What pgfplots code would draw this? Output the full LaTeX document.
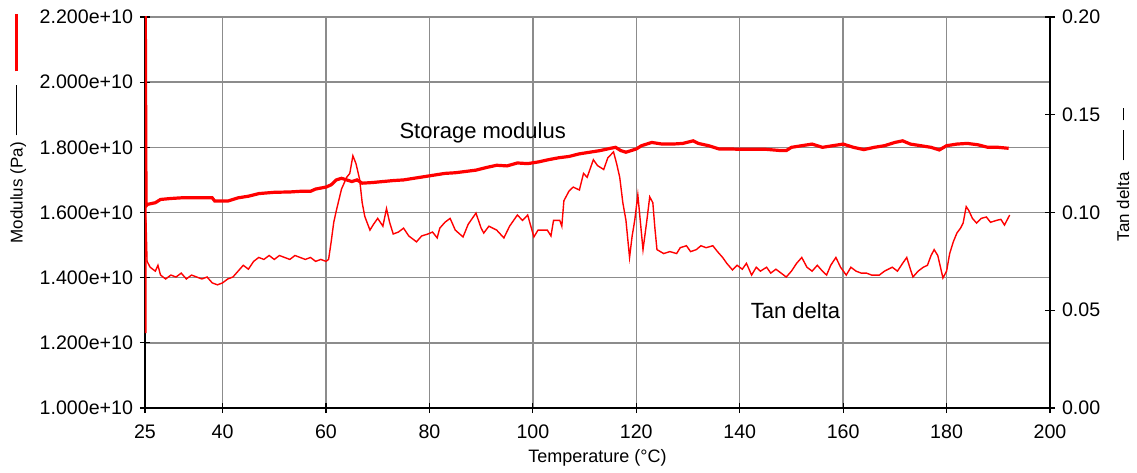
\documentclass[border=0pt]{standalone}
\usepackage{fontspec}
\setmainfont{Liberation Sans}
\usepackage{pgfplots}
\pgfplotsset{compat=1.18}
\definecolor{gridgray}{RGB}{140,140,140}
\definecolor{curvered}{RGB}{255,0,0}

% storage modulus, in units of 1e10 Pa
\pgfplotstableread{
T E
25.0 1.23
25.05 2.25
25.2 1.62
25.5 1.625
27 1.63
28 1.64
30 1.643
32 1.645
35 1.645
38 1.645
38.5 1.635
41 1.635
42 1.64
43 1.645
45 1.65
47 1.658
50 1.662
53 1.663
55 1.665
57 1.665
58 1.672
60 1.678
61 1.685
62 1.70
63 1.705
64 1.70
65 1.695
66 1.70
67 1.69
69 1.692
71 1.695
73 1.698
75 1.70
77 1.705
79 1.71
81 1.715
83 1.72
85 1.722
87 1.726
89 1.73
91 1.738
93 1.745
95 1.743
97 1.752
99 1.75
101 1.755
103 1.762
105 1.768
107 1.772
109 1.78
111 1.785
113 1.79
115 1.797
116 1.80
117 1.79
118 1.785
119 1.79
120 1.795
121 1.805
122 1.81
123 1.815
125 1.81
127 1.81
129 1.812
131 1.82
132 1.812
134 1.805
136 1.795
138 1.795
140 1.794
142 1.794
145 1.794
148 1.79
149 1.79
150 1.80
152 1.805
154 1.81
156 1.80
158 1.805
160 1.81
162 1.80
164 1.793
166 1.80
168 1.805
170 1.815
171.5 1.82
173 1.81
175 1.805
177 1.80
178.6 1.792
180 1.805
182 1.81
184 1.812
186 1.808
188 1.80
190 1.80
192 1.797
}\storagetab

\pgfplotstableread{
T D
25 0.10
25.2 0.095
25.4 0.075
26 0.072
27 0.070
27.5 0.073
28 0.068
29 0.066
30 0.068
31 0.067
32 0.069
33 0.066
34 0.068
35 0.067
36 0.066
37 0.067
38 0.064
39 0.063
40 0.064
41 0.066
42 0.067
43 0.070
44 0.073
45 0.071
46 0.075
47 0.077
48 0.076
49 0.078
50 0.076
51 0.078
52 0.077
53 0.076
54 0.078
55 0.077
56 0.076
57 0.077
58 0.075
59 0.076
60 0.075
60.5 0.076
61 0.085
61.5 0.095
62 0.101
63 0.112
64 0.118
64.6 0.120
65.2 0.129
65.8 0.125
66.5 0.117
67 0.105
67.5 0.098
68.5 0.091
69.2 0.094
70 0.097
71 0.093
71.7 0.102
72.3 0.095
73 0.089
74 0.090
75 0.092
76 0.088
77.5 0.085
78.5 0.088
79.7 0.089
80.6 0.090
81.5 0.087
82 0.092
83 0.095
84 0.097
85 0.091
86.5 0.0875
87.5 0.094
89 0.0997
90 0.092
90.5 0.0895
91.5 0.093
93 0.091
94.4 0.087
95.5 0.093
97 0.0987
98 0.096
99 0.0987
100.2 0.0875
101 0.091
102.8 0.091
103.5 0.088
104 0.096
105.2 0.096
105.6 0.093
106 0.106
107 0.111
107.8 0.113
109 0.1115
109.8 0.120
110.5 0.118
111.7 0.127
112.5 0.124
113.7 0.122
114.5 0.128
115.6 0.131
116.2 0.125
116.8 0.118
117.4 0.105
118 0.096
118.7 0.077
119.2 0.088
119.7 0.096
120.3 0.109
120.8 0.095
121.3 0.081
122 0.095
122.6 0.108
123.2 0.105
123.6 0.092
124 0.081
125.3 0.079
126.5 0.080
127.8 0.079
128.5 0.082
129.7 0.083
130.5 0.080
131.6 0.081
132.5 0.083
133.5 0.082
134.8 0.083
135.7 0.080
136.7 0.077
137.5 0.074
138.6 0.0706
139.5 0.073
140.5 0.071
141.3 0.074
142.3 0.068
143.2 0.072
144 0.070
145.2 0.072
146 0.069
147 0.071
148 0.069
149 0.067
150 0.070
151 0.074
152 0.077
153 0.072
154 0.070
155 0.073
156 0.070
156.8 0.068
157.6 0.073
158.6 0.077
159.5 0.072
160.6 0.068
161.5 0.072
162.5 0.070
163.5 0.069
164.5 0.069
165.5 0.068
167 0.068
168 0.070
169.5 0.072
170.5 0.070
171.5 0.074
172.3 0.077
173 0.071
173.5 0.067
174.5 0.070
175.5 0.072
176.3 0.073
177 0.078
177.6 0.081
178.3 0.078
179.3 0.0665
180 0.070
180.6 0.079
181.3 0.085
182 0.0895
182.7 0.092
183.2 0.0946
183.8 0.103
184.3 0.101
185 0.097
185.8 0.0946
186.7 0.097
187.7 0.0977
188.5 0.095
189.7 0.096
190.5 0.0965
191.2 0.0936
192.2 0.0987
}\tandeltatab

\pgfplotsset{
  dmastyle/.style={
    scale only axis,
    width=452.5pt, height=195.5pt,
    xmin=25, xmax=200,
    tick align=center,
    major tick length=5pt,
    tick style={black, line width=0.6pt},
    axis line style={black, line width=0.6pt, -},
    tick label style={font=\fontsize{9.8}{11}\selectfont},
    label style={font=\fontsize{8.5}{10}\selectfont},
  }
}

\begin{document}
\begin{tikzpicture}
\begin{axis}[
  dmastyle,
  name=ax,
  ymin=1, ymax=2.2,
  axis x line*=bottom,
  axis y line*=left,
  xtick={25,40,60,80,100,120,140,160,180,200},
  xticklabels={25,40,60,80,100,120,140,160,180,200},
  xticklabel style={yshift=-2.5pt},
  ytick={1,1.2,1.4,1.6,1.8,2.0,2.2},
  yticklabels={1.000e+10,1.200e+10,1.400e+10,1.600e+10,1.800e+10,2.000e+10,2.200e+10},
  grid=major,
  grid style={gridgray, line width=0.75pt},
  xlabel={Temperature (°C)},
  xlabel style={at={(axis description cs:0.5,-0.128)}, anchor=center,
    font=\fontsize{9}{11}\selectfont},
  ylabel={Modulus (Pa)\hspace{3.5pt}\rule[0.33em]{25pt}{0.5pt}\hspace{7pt}\textcolor{curvered}{\rule[0.25em]{28.5pt}{1.6pt}}},
  ylabel style={at={(axis description cs:-0.140,0.714)}, anchor=center},
]
\addplot[curvered, line width=1.6pt] table[x=T, y=E] {\storagetab};
\node[font=\fontsize{11}{13}\selectfont] at (axis cs:90.3,1.846) {Storage modulus};
\node[font=\fontsize{11}{13}\selectfont] at (axis cs:150.8,1.30) {Tan delta};
\end{axis}
\begin{axis}[
  dmastyle,
  ymin=0, ymax=0.2,
  axis x line=none,
  axis y line*=right,
  ytick={0,0.05,0.1,0.15,0.2},
  yticklabels={0.00,0.05,0.10,0.15,0.20},
  ylabel={Tan delta\hspace{6pt}\rule[0.33em]{15pt}{0.5pt}\hspace{5pt}\rule[0.33em]{6pt}{0.5pt}},
  ylabel style={at={(axis description cs:1.0807,0.596)}, anchor=center},
]
\addplot[curvered, line width=0.7pt] table[x=T, y=D] {\tandeltatab};
\end{axis}
\pgfresetboundingbox
\path[use as bounding box] ([shift={(-72.5pt,-32pt)}]ax.south west) rectangle ([shift={(496pt,204pt)}]ax.south west);
\end{tikzpicture}
\end{document}
